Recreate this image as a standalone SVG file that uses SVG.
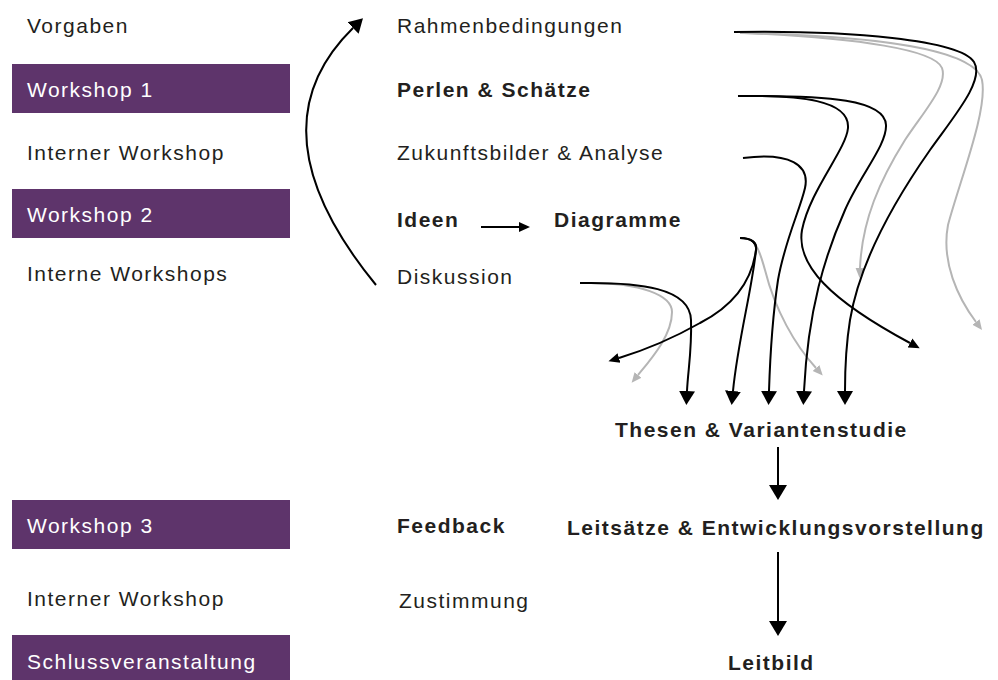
<svg xmlns="http://www.w3.org/2000/svg" width="998" height="680" viewBox="0 0 998 680">
<style>
text{font-family:"Liberation Sans",Arial,Helvetica,sans-serif;font-size:21px;letter-spacing:1.5px;fill:#231f20}
.b{font-weight:bold}
.w{fill:#ffffff}
.box{fill:#5e346b}
.k{fill:none;stroke:#000;stroke-width:2}
.g{fill:none;stroke:#b5b5b5;stroke-width:2}
</style>
<defs>
<marker id="big" markerUnits="userSpaceOnUse" markerWidth="16" markerHeight="18" viewBox="0 -9 16 18" refX="0" refY="0" orient="auto"><path d="M0,-8 L14,0 L0,8 Z" fill="#000"/></marker>
<marker id="xl" markerUnits="userSpaceOnUse" markerWidth="16" markerHeight="20" viewBox="0 -10 16 20" refX="0" refY="0" orient="auto"><path d="M0,-9 L15,0 L0,9 Z" fill="#000"/></marker>
<marker id="sm" markerUnits="userSpaceOnUse" markerWidth="13" markerHeight="12" viewBox="0 -6 13 12" refX="0" refY="0" orient="auto"><path d="M0,-5 L11,0 L0,5 Z" fill="#000"/></marker>
<marker id="gr" markerUnits="userSpaceOnUse" markerWidth="12" markerHeight="10" viewBox="0 -5 12 10" refX="0" refY="0" orient="auto"><path d="M0,-4.5 L10,0 L0,4.5 Z" fill="#b5b5b5"/></marker>
</defs>

<g id="vorgaben"><text x="27" y="33">Vorgaben</text></g>
<g id="workshop1"><rect class="box" x="12" y="64" width="278" height="49"/><text class="w" x="27" y="97">Workshop 1</text></g>
<g id="interner1"><text x="27" y="160">Interner Workshop</text></g>
<g id="workshop2"><rect class="box" x="12" y="189" width="278" height="49"/><text class="w" x="27" y="222">Workshop 2</text></g>
<g id="interne"><text x="27" y="281">Interne Workshops</text></g>
<g id="workshop3"><rect class="box" x="12" y="500" width="278" height="49"/><text class="w" x="27" y="533">Workshop 3</text></g>
<g id="interner2"><text x="27" y="606">Interner Workshop</text></g>
<g id="schluss"><rect class="box" x="12" y="635" width="278" height="45"/><text class="w" x="27" y="669">Schlussveranstaltung</text></g>

<g id="rahmen"><text x="397" y="33">Rahmenbedingungen</text></g>
<g id="perlen"><text class="b" x="397" y="97">Perlen &amp; Schätze</text></g>
<g id="zukunft"><text x="397" y="160">Zukunftsbilder &amp; Analyse</text></g>
<g id="ideen"><text class="b" x="397" y="227">Ideen</text></g>
<g id="diagramme"><text class="b" x="554" y="227">Diagramme</text></g>
<g id="diskussion"><text x="397" y="284">Diskussion</text></g>
<g id="feedback"><text class="b" x="397" y="533">Feedback</text></g>
<g id="zustimmung"><text x="399" y="608">Zustimmung</text></g>

<g id="thesen"><text class="b" x="615" y="437">Thesen &amp; Variantenstudie</text></g>
<g id="leitsaetze"><text class="b" x="567" y="535">Leitsätze &amp; Entwicklungsvorstellung</text></g>
<g id="leitbild"><text class="b" x="728" y="670">Leitbild</text></g>

<g id="connectors">
<path class="k" d="M376,285 Q249,130 353,28" marker-end="url(#big)"/>
<path class="k" d="M481,227 L519,227" marker-end="url(#sm)"/>
<path class="g" d="M745,33 C860,38 935,50 942,68 C948,85 925,110 905,140 C880,180 862,220 860,268" marker-end="url(#gr)"/>
<path class="g" d="M740,33 C880,36 975,50 982,80 C988,110 960,180 948,225 C941,262 958,298 976,322" marker-end="url(#gr)"/>
<path class="g" d="M754,243 C760,250 762,260 765,270 C775,310 795,345 816,368" marker-end="url(#gr)"/>
<path class="g" d="M590,283 C640,283 672,295 672,312 C672,335 652,358 638,375" marker-end="url(#gr)"/>
<path class="k" d="M734,32 C850,30 960,40 974,62 C985,80 955,115 930,150 C895,200 860,260 850,320 C846,345 845,370 845,391" marker-end="url(#big)"/>
<path class="k" d="M738,96 C800,95 850,100 848,128 C846,150 810,190 802,230 C796,265 830,300 910,343" marker-end="url(#sm)"/>
<path class="k" d="M738,96 C830,95 885,100 886,125 C887,145 860,175 845,210 C825,255 808,310 804,391" marker-end="url(#big)"/>
<path class="k" d="M743,158 C790,152 810,165 805,188 C800,210 785,240 778,280 C772,320 770,360 769,391" marker-end="url(#big)"/>
<path class="k" d="M740,238 C752,238 757,243 756,250 C752,280 735,305 700,323 C670,340 645,350 619,358" marker-end="url(#sm)"/>
<path class="k" d="M740,238 C752,238 757,243 756,250 C752,290 738,340 733,391" marker-end="url(#big)"/>
<path class="k" d="M580,283 C640,282 690,288 691,320 C692,350 688,370 687,391" marker-end="url(#big)"/>
<path class="k" d="M778,447 L778,485" marker-end="url(#xl)"/>
<path class="k" d="M778,552 L778,621" marker-end="url(#xl)"/>
</g>
</svg>
